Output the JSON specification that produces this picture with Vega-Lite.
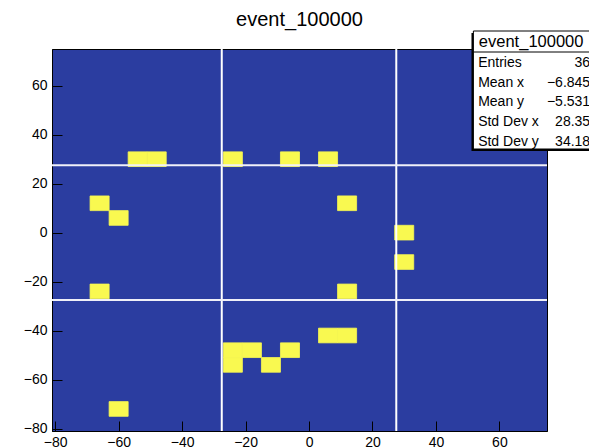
{
  "$schema": "https://vega.github.io/schema/vega-lite/v6.json",
  "width": 495,
  "height": 382,
  "autosize": "none",
  "padding": {"left": 52, "top": 49, "right": 42, "bottom": 17},
  "background": "white",
  "config": {
    "view": {"fill": "#2B3DA0", "stroke": "black", "strokeWidth": 1},
    "font": "Liberation Sans"
  },
  "title": {
    "text": "event_100000",
    "font": "Liberation Sans",
    "fontSize": 20,
    "fontWeight": "normal",
    "color": "black",
    "anchor": "middle",
    "frame": "group",
    "baseline": "alphabetic",
    "offset": -15.5
  },
  "datasets": {
    "cells": [
      {"xl": -57, "xh": -51, "yl": 27, "yh": 33, "content": 1},
      {"xl": -51, "xh": -45, "yl": 27, "yh": 33, "content": 1},
      {"xl": -27, "xh": -21, "yl": 27, "yh": 33, "content": 1},
      {"xl": -9, "xh": -3, "yl": 27, "yh": 33, "content": 1},
      {"xl": 3, "xh": 9, "yl": 27, "yh": 33, "content": 1},
      {"xl": -69, "xh": -63, "yl": 9, "yh": 15, "content": 1},
      {"xl": 9, "xh": 15, "yl": 9, "yh": 15, "content": 1},
      {"xl": -63, "xh": -57, "yl": 3, "yh": 9, "content": 1},
      {"xl": 27, "xh": 33, "yl": -3, "yh": 3, "content": 1},
      {"xl": 27, "xh": 33, "yl": -15, "yh": -9, "content": 1},
      {"xl": -69, "xh": -63, "yl": -27, "yh": -21, "content": 1},
      {"xl": 9, "xh": 15, "yl": -27, "yh": -21, "content": 1},
      {"xl": 3, "xh": 9, "yl": -45, "yh": -39, "content": 1},
      {"xl": 9, "xh": 15, "yl": -45, "yh": -39, "content": 1},
      {"xl": -27, "xh": -21, "yl": -51, "yh": -45, "content": 1},
      {"xl": -21, "xh": -15, "yl": -51, "yh": -45, "content": 1},
      {"xl": -9, "xh": -3, "yl": -51, "yh": -45, "content": 1},
      {"xl": -27, "xh": -21, "yl": -57, "yh": -51, "content": 1},
      {"xl": -15, "xh": -9, "yl": -57, "yh": -51, "content": 1},
      {"xl": -63, "xh": -57, "yl": -75, "yh": -69, "content": 1}
    ],
    "vlines": [{"pos": -27.5}, {"pos": 27.5}],
    "hlines": [{"pos": -27.5}, {"pos": 27.5}],
    "stats": [{"title": "event_100000"}]
  },
  "layer": [
    {
      "data": {"name": "cells"},
      "mark": {"type": "rect", "color": "#F9F950", "stroke": "#F9F950", "strokeWidth": 0.8},
      "encoding": {
        "x": {
          "field": "xl", "type": "quantitative",
          "scale": {"domain": [-81, 75], "nice": false, "zero": false},
          "axis": {
            "title": null,
            "grid": false,
            "values": [-80,-75,-70,-65,-60,-55,-50,-45,-40,-35,-30,-25,-20,-15,-10,-5,0,5,10,15,20,25,30,35,40,45,50,55,60,65,70,75],
            "labelExpr": "datum.value % 20 === 0 ? datum.label : ''",
            "tickSize": {"condition": {"test": "datum.value % 20 === 0", "value": -10}, "value": -5},
            "tickColor": "black",
            "tickWidth": 1,
            "domainColor": "black",
            "labelFont": "Liberation Sans",
            "labelFontSize": 14,
            "labelColor": "black",
            "labelPadding": 14,
            "labelFlush": false,
            "labelOverlap": false
          }
        },
        "x2": {"field": "xh"},
        "y": {
          "field": "yl", "type": "quantitative",
          "scale": {"domain": [-81, 75], "nice": false, "zero": false},
          "axis": {
            "title": null,
            "grid": false,
            "values": [-80,-75,-70,-65,-60,-55,-50,-45,-40,-35,-30,-25,-20,-15,-10,-5,0,5,10,15,20,25,30,35,40,45,50,55,60,65,70,75],
            "labelExpr": "datum.value % 20 === 0 ? datum.label : ''",
            "tickSize": {"condition": {"test": "datum.value % 20 === 0", "value": -10}, "value": -5},
            "tickColor": "black",
            "tickWidth": 1,
            "domainColor": "black",
            "labelFont": "Liberation Sans",
            "labelFontSize": 14,
            "labelColor": "black",
            "labelPadding": 15,
            "labelFlush": false,
            "labelOverlap": false
          }
        },
        "y2": {"field": "yh"}
      }
    },
    {
      "data": {"name": "vlines"},
      "mark": {"type": "rule", "color": "white", "strokeWidth": 2},
      "encoding": {"x": {"field": "pos", "type": "quantitative"}}
    },
    {
      "data": {"name": "hlines"},
      "mark": {"type": "rule", "color": "#F0F0F8", "strokeWidth": 2},
      "encoding": {"y": {"field": "pos", "type": "quantitative"}}
    },
    {
      "data": {"name": "stats"},
      "mark": {"type": "rect", "color": "black"},
      "encoding": {
        "x": {"datum": 51.2}, "x2": {"datum": 95},
        "y": {"datum": 81.5}, "y2": {"datum": 33.3}
      }
    },
    {
      "data": {"name": "stats"},
      "mark": {"type": "rect", "fill": "white", "stroke": "black", "strokeWidth": 1},
      "encoding": {
        "x": {"datum": 51.8}, "x2": {"datum": 95},
        "y": {"datum": 82.35}, "y2": {"datum": 34.16}
      }
    },
    {
      "data": {"name": "stats"},
      "mark": {"type": "rule", "color": "black", "strokeWidth": 1},
      "encoding": {
        "x": {"datum": 51.8}, "x2": {"datum": 95},
        "y": {"datum": 73.77}
      }
    },
    {
      "data": {"name": "stats"},
      "mark": {"type": "text", "font": "Liberation Sans", "fontSize": 16.5, "align": "center", "baseline": "middle", "color": "black"},
      "encoding": {
        "x": {"datum": 70}, "y": {"datum": 77.86},
        "text": {"field": "title"}
      }
    },
    {
      "data": {"name": "stats"},
      "mark": {"type": "text", "font": "Liberation Sans", "fontSize": 14, "align": "left", "baseline": "alphabetic", "lineHeight": 19.7, "color": "black"},
      "encoding": {
        "x": {"datum": 53.3}, "y": {"datum": 67.65},
        "text": {"value": ["Entries", "Mean x", "Mean y", "Std Dev x", "Std Dev y"]}
      }
    },
    {
      "data": {"name": "stats"},
      "mark": {"type": "text", "font": "Liberation Sans", "fontSize": 14, "align": "right", "baseline": "alphabetic", "lineHeight": 19.7, "color": "black"},
      "encoding": {
        "x": {"datum": 88.6}, "y": {"datum": 67.65},
        "text": {"value": ["36", "−6.845", "−5.531", "28.35", "34.18"]}
      }
    }
  ]
}
